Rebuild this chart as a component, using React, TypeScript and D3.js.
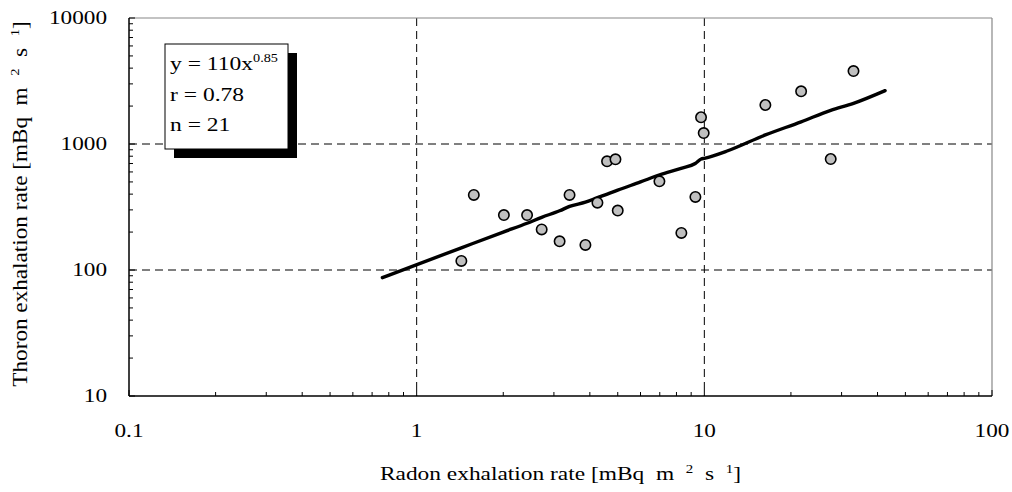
import React from "react";
import * as d3 from "d3";

const radonX = [1.43, 1.58, 2.01, 2.42, 2.72, 3.14, 3.40, 3.86, 4.25, 4.59, 4.91, 5.00, 6.98, 8.32, 9.31, 9.74, 9.95, 16.3, 21.7, 27.5, 33.0];
const thoronY = [118, 394, 273, 273, 210, 169, 394, 158, 342, 729, 756, 296, 506, 197, 380, 1630, 1222, 2040, 2620, 760, 3794];

const fitX = [0.76, 1.43, 2.0, 2.42, 2.72, 3.14, 3.4, 3.86, 4.25, 4.6, 5.0, 6.0, 7.0, 8.3, 9.3, 9.75, 10.0, 12.0, 16.3, 21.7, 27.5, 33.0, 42.5];
const fitY = [87, 150, 200, 235, 262, 295, 320, 345, 375, 400, 430, 500, 570, 640, 700, 760, 770, 880, 1180, 1500, 1850, 2100, 2650];

const xTicks = [0.1, 1, 10, 100];
const xTickLabels = ["0.1", "1", "10", "100"];
const yTicks = [10, 100, 1000, 10000];
const yTickLabels = ["10", "100", "1000", "10000"];
const legendLines = ["r = 0.78", "n = 21"];

const W = 1012, H = 492;
const L = 129, R = 992, T = 18, B = 396;
const FONT = "'Liberation Serif', 'Times New Roman', serif";

function SText({ x, y, sx = 1, anchor = "start", size, children, rotate = 0 }: any) {
  return (
    <g transform={`translate(${x},${y}) rotate(${rotate}) scale(${sx},1)`}>
      <text x={0} y={0} textAnchor={anchor} fontSize={size} fill="#000" style={{ whiteSpace: "pre" }}>
        {children}
      </text>
    </g>
  );
}

export default function App() {
  const x = d3.scaleLog().domain([0.1, 100]).range([L, R]);
  const y = d3.scaleLog().domain([10, 10000]).range([B, T]);

  const minorX: number[] = [];
  for (let d = 0.1; d < 100; d *= 10) for (let k = 2; k <= 9; k++) minorX.push(d * k);
  const minorY: number[] = [];
  for (let d = 10; d < 10000; d *= 10) for (let k = 2; k <= 9; k++) minorY.push(d * k);

  const line = d3.line<number>().x((_, i) => x(fitX[i])).y((_, i) => y(fitY[i])).curve(d3.curveMonotoneX);
  const fitPath = line(fitX) || "";

  const bx = 165, by = 44, bw = 123, bh = 105;

  return (
    <svg width={W} height={H} style={{ position: "absolute", left: 0, top: 0, background: "#fff" }} fontFamily={FONT}>
      {[1, 10].map((v) => (
        <line key={"gx" + v} x1={x(v)} x2={x(v)} y1={T} y2={B} stroke="#000" strokeWidth={1} strokeDasharray="8,5" />
      ))}
      {[100, 1000].map((v) => (
        <line key={"gy" + v} x1={L} x2={R} y1={y(v)} y2={y(v)} stroke="#000" strokeWidth={1} strokeDasharray="8,5" />
      ))}
      <line x1={L} x2={R} y1={T} y2={T} stroke="#888" strokeWidth={1.2} />
      <line x1={R} x2={R} y1={T} y2={B} stroke="#888" strokeWidth={1.2} />
      <line x1={L} x2={L} y1={T} y2={B} stroke="#000" strokeWidth={1.5} />
      <line x1={L} x2={R} y1={B} y2={B} stroke="#000" strokeWidth={1.5} />
      {minorX.map((v, i) => (
        <line key={"mx" + i} x1={x(v)} x2={x(v)} y1={B} y2={B - 4} stroke="#000" strokeWidth={1} />
      ))}
      {minorY.map((v, i) => (
        <line key={"my" + i} x1={L} x2={L + 4} y1={y(v)} y2={y(v)} stroke="#000" strokeWidth={1} />
      ))}
      {xTicks.map((v) => (
        <line key={"tx" + v} x1={x(v)} x2={x(v)} y1={B} y2={B - 6} stroke="#000" strokeWidth={1} />
      ))}
      {yTicks.map((v) => (
        <line key={"ty" + v} x1={L} x2={L + 6} y1={y(v)} y2={y(v)} stroke="#000" strokeWidth={1} />
      ))}
      {xTicks.map((v, i) => (
        <SText key={"lx" + v} x={x(v)} y={437} anchor="middle" size={18} sx={1.29}>{xTickLabels[i]}</SText>
      ))}
      {yTicks.map((v, i) => (
        <SText key={"ly" + v} x={107} y={y(v) + 6} anchor="end" size={18} sx={1.29}>{yTickLabels[i]}</SText>
      ))}
      <path d={fitPath} fill="none" stroke="#000" strokeWidth={3.4} strokeLinejoin="round" strokeLinecap="round" />
      {radonX.map((v, i) => (
        <circle key={"p" + i} cx={x(v)} cy={y(thoronY[i])} r={5.2} fill="#c0c0c0" stroke="#000" strokeWidth={1.6} />
      ))}
      <rect x={bx + 9} y={by + 9} width={bw} height={bh} fill="#000" />
      <rect x={bx} y={by} width={bw} height={bh} fill="#fff" stroke="#000" strokeWidth={1} />
      <SText x={bx + 5} y={by + 26} size={19} sx={1.24}>
        {"y = 110x"}<tspan fontSize={11.5} dy={-8}>0.85</tspan>
      </SText>
      {legendLines.map((s, i) => (
        <SText key={"lg" + i} x={bx + 5} y={by + 57 + i * 30} size={19} sx={1.24}>{s}</SText>
      ))}
      <SText x={(L + R) / 2} y={480} anchor="middle" size={18} sx={1.3}>
        {"Radon exhalation rate [mBq  m  "}
        <tspan fontSize={11.5} dy={-7}>2</tspan>
        <tspan dy={7}>{"  s  "}</tspan>
        <tspan fontSize={11.5} dy={-7}>1</tspan>
        <tspan dy={7}>]</tspan>
      </SText>
      <SText x={27} y={204} rotate={-90} anchor="middle" size={20} sx={1.16}>
        {"Thoron exhalation rate [mBq  m  "}
        <tspan fontSize={12.5} dy={-8}>2</tspan>
        <tspan dy={8}>{"  s  "}</tspan>
        <tspan fontSize={12.5} dy={-8}>1</tspan>
        <tspan dy={8}>]</tspan>
      </SText>
    </svg>
  );
}
